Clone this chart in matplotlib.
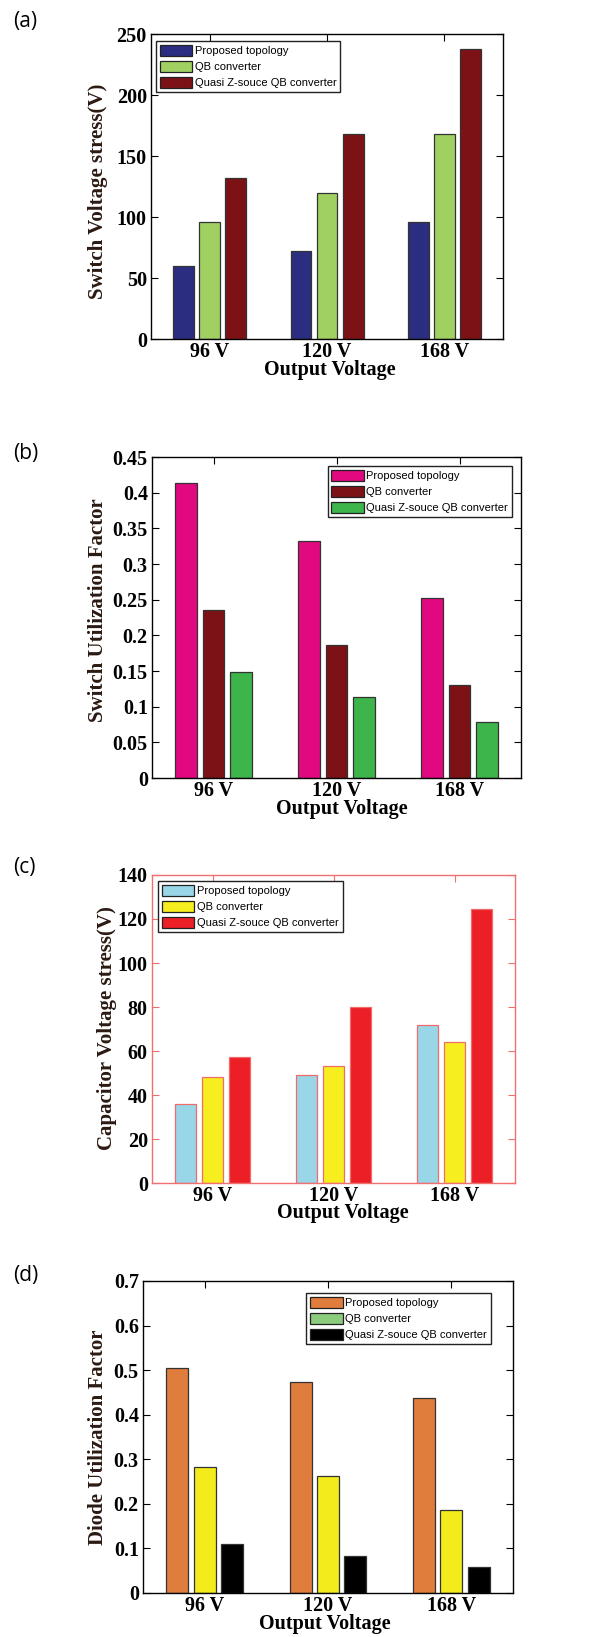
import numpy as np
import matplotlib
matplotlib.use("Agg")
import matplotlib.pyplot as plt
from matplotlib.patches import Patch
from matplotlib.ticker import FuncFormatter

# datos
categorias = ['96 V', '120 V', '168 V']
series = ['Proposed topology', 'QB converter', 'Quasi Z-souce QB converter']

sw_voltaje = {
    'Proposed topology': [60, 72, 96],
    'QB converter': [96, 120, 168],
    'Quasi Z-souce QB converter': [132, 168, 238],
}
sw_utilizacion = {
    'Proposed topology': [0.413, 0.333, 0.253],
    'QB converter': [0.235, 0.187, 0.131],
    'Quasi Z-souce QB converter': [0.149, 0.114, 0.078],
}
cap_voltaje = {
    'Proposed topology': [36, 49, 72],
    'QB converter': [48, 53.4, 64],
    'Quasi Z-souce QB converter': [57.5, 80, 124.5],
}
diodo_utilizacion = {
    'Proposed topology': [0.505, 0.474, 0.437],
    'QB converter': [0.282, 0.263, 0.186],
    'Quasi Z-souce QB converter': [0.109, 0.084, 0.059],
}

SERIF = 'Liberation Serif'
LEG_FONT = ['Liberation Sans Narrow', 'Liberation Sans', 'DejaVu Sans']
COLOR_YLAB = '#2b1a12'

fig = plt.figure(figsize=(5.95, 16.37), dpi=100)


def fmt_g(v, pos):
    return '%g' % round(v, 3)


def panel(rect, datos, colores, ylim, yticks, ylabel, etiqueta, etq_y,
          leg_loc, leg_anchor, ylab_xy, xlab_xy, borde='#333333',
          espina='black', leg_colores=None):
    ax = fig.add_axes(rect)
    x = np.arange(1, len(categorias) + 1)
    offs = [-0.222, 0.0, 0.222]
    for i, s in enumerate(series):
        ax.bar(x + offs[i], datos[s], width=0.178, color=colores[i],
               edgecolor=borde, linewidth=0.9, zorder=2)
    ax.set_xlim(0.5, 3.5)
    ax.set_ylim(*ylim)
    ax.set_yticks(yticks)
    ax.set_xticks(x)
    ax.set_xticklabels(categorias)
    ax.yaxis.set_major_formatter(FuncFormatter(fmt_g))
    ax.tick_params(direction='in', length=5, width=0.8, top=True, right=True,
                   color=espina, labelsize=14.5, pad=3)
    ax.tick_params(axis='x', pad=2)
    for lab in ax.get_xticklabels() + ax.get_yticklabels():
        lab.set_fontfamily(SERIF)
        lab.set_fontweight('bold')
    for sp in ax.spines.values():
        sp.set_color(espina)
        sp.set_linewidth(1.0)
    ax.set_ylabel(ylabel, fontsize=15, fontweight='bold', family=SERIF,
                  color=COLOR_YLAB)
    ax.yaxis.set_label_coords(*ylab_xy)
    ax.set_xlabel('Output Voltage', fontsize=14.5, fontweight='bold',
                  family=SERIF, va='top')
    ax.xaxis.set_label_coords(*xlab_xy)
    cols = leg_colores if leg_colores else colores
    handles = [Patch(facecolor=c, edgecolor='#222222', linewidth=0.9)
               for c in cols]
    leg = ax.legend(handles, series, loc=leg_loc, bbox_to_anchor=leg_anchor,
                    prop={'family': LEG_FONT, 'size': 8},
                    fancybox=False, framealpha=1, edgecolor='#222222',
                    handlelength=2.9, handleheight=1.1, handletextpad=0.25,
                    labelspacing=0.45, borderpad=0.35, borderaxespad=0)
    leg.get_frame().set_linewidth(1.0)
    fig.text(0.022, etq_y, etiqueta, fontsize=15, family='Open Sans',
             va='center', ha='left')
    return ax


# (a)
panel([0.2538, 0.7929, 0.5916, 0.1863], sw_voltaje,
      ['#2b2e80', '#a1d062', '#7d1216'], (0, 250), np.arange(0, 251, 50),
      'Switch Voltage stress(V)', '(a)', 1 - 22 / 1637,
      'upper left', (0.014, 0.977), (-0.122, 0.485), (0.509, -0.068))

# (b)
panel([0.2555, 0.5247, 0.6202, 0.1961], sw_utilizacion,
      ['#e2087f', '#7c1216', '#3db54a'], (0, 0.45), np.arange(0, 0.451, 0.05),
      'Switch Utilization Factor', '(b)', 1 - 454 / 1637,
      'upper right', (0.9756, 0.972), (-0.119, 0.523), (0.515, -0.066))

# (c)
panel([0.2555, 0.2773, 0.6101, 0.1882], cap_voltaje,
      ['#98d6e8', '#f6ee1e', '#ec1e26'], (0, 140), np.arange(0, 141, 20),
      'Capacitor Voltage stress(V)', '(c)', 1 - 867 / 1637,
      'upper left', (0.0165, 0.9805), (-0.096, 0.503), (0.526, -0.066),
      borde='#f26b6b', espina='#f07070')

# (d)
panel([0.2403, 0.0269, 0.6218, 0.1906], diodo_utilizacion,
      ['#e07c3c', '#f3eb1b', '#000000'], (0, 0.7), np.arange(0, 0.71, 0.1),
      'Diode Utilization Factor', '(d)', 1 - 1275 / 1637,
      'upper right', (0.9405, 0.9615), (-0.095, 0.5), (0.492, -0.068),
      leg_colores=['#e07c3c', '#8acb7c', '#000000'])

fig.savefig('out.png', dpi=100)
